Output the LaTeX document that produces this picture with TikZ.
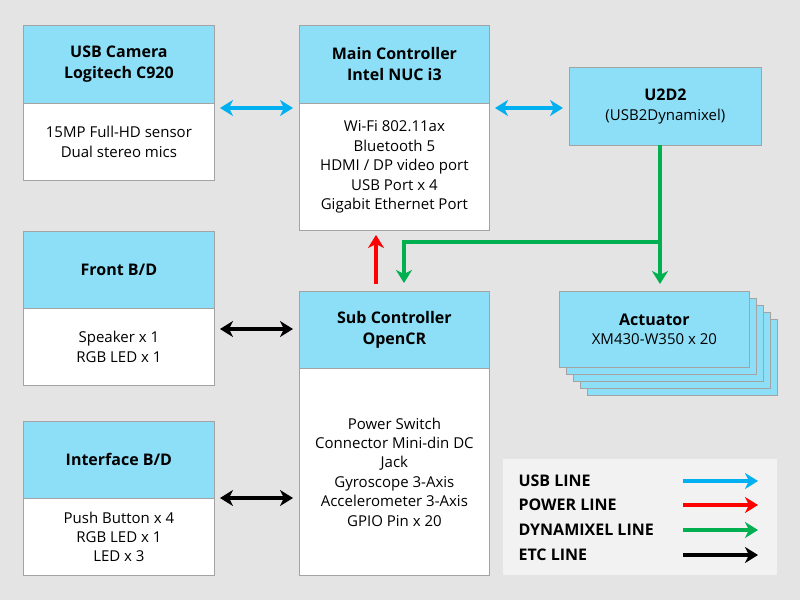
\documentclass[tikz,border=0pt]{standalone}
\usepackage{fontspec}
\setmainfont{Open Sans}
\usetikzlibrary{arrows.meta}
\definecolor{bgc}{HTML}{E4E4E4}
\definecolor{cyanh}{HTML}{8DDFF8}
\definecolor{edgec}{HTML}{A3A3A3}
\definecolor{legc}{HTML}{F2F2F2}
\definecolor{usbc}{HTML}{00B0F0}
\definecolor{pwrc}{HTML}{FF0000}
\definecolor{dxlc}{HTML}{00B050}
\tikzset{
  hdr/.style={draw=edgec, line width=0.8pt, fill=cyanh, anchor=north west, inner sep=0pt, align=center, font=\fontsize{16}{21}\selectfont\bfseries},
  bdy/.style={draw=edgec, line width=0.8pt, fill=white, anchor=north west, inner sep=0pt, align=center, font=\fontsize{15}{19.4}\selectfont},
  tip/.style={-{Stealth[length=13pt,width=16pt,inset=4pt]}},
  dtip/.style={{Stealth[length=13pt,width=16pt,inset=4pt]}-{Stealth[length=13pt,width=16pt,inset=4pt]}},
  conn/.style={line width=4pt},
  legtxt/.style={anchor=west, font=\fontsize{16}{18}\selectfont\bfseries},
}
\begin{document}
\begin{tikzpicture}[x=1pt,y=-1pt]
\fill[bgc] (0,0) rectangle (800,600);
\useasboundingbox (0,0) rectangle (800,600);
% USB camera
\node[hdr, minimum width=191pt, minimum height=78pt] (camh) at (23,25) {USB Camera\\Logitech C920};
\node[bdy, minimum width=191pt, minimum height=77pt] (camb) at (23,103) {15MP Full-HD sensor\\Dual stereo mics};
% Main controller
\node[hdr, minimum width=190pt, minimum height=78pt] (mainh) at (299,25) {Main Controller\\Intel NUC i3};
\node[bdy, minimum width=190pt, minimum height=127pt] (mainb) at (299,103) {Wi-Fi 802.11ax\\Bluetooth 5\\HDMI / DP video port\\USB Port x 4\\Gigabit Ethernet Port};
% U2D2
\node[hdr, minimum width=192pt, minimum height=78pt, font=\fontsize{15}{19.4}\selectfont] (u2d2) at (569,67) {\textbf{\fontsize{16}{19}\selectfont U2D2}\\(USB2Dynamixel)};
% Front B/D
\node[hdr, minimum width=191pt, minimum height=77pt] (fronth) at (23,231) {Front B/D};
\node[bdy, minimum width=191pt, minimum height=77pt] (frontb) at (23,308) {Speaker x 1\\RGB LED x 1};
% Sub controller
\node[hdr, minimum width=190pt, minimum height=77pt] (subh) at (299,291) {Sub Controller\\OpenCR};
\node[bdy, minimum width=190pt, minimum height=207pt] (subb) at (299,368) {Power Switch\\Connector Mini-din DC\\Jack\\Gyroscope 3-Axis\\Accelerometer 3-Axis\\GPIO Pin x 20};
% Interface B/D
\node[hdr, minimum width=191pt, minimum height=77pt] (ifh) at (23,421) {Interface B/D};
\node[bdy, minimum width=191pt, minimum height=77pt] (ifb) at (23,498) {Push Button x 4\\RGB LED x 1\\LED x 3};
% Actuator stack
\foreach \k in {4,3,2,1} {
  \node[hdr, minimum width=190pt, minimum height=76pt] (act\k) at (559+7*\k,291+7*\k) {};
}
\node[hdr, minimum width=190pt, minimum height=76pt, font=\fontsize{15}{19.4}\selectfont] (act) at (559,291) {\textbf{\fontsize{16}{19}\selectfont Actuator}\\XM430-W350 x 20};
% connector end points
\coordinate (c1) at (220,108); \coordinate (c2) at (293,108);
\coordinate (c3) at (495,108); \coordinate (c4) at (563,108);
\coordinate (jn) at (660,242);
\coordinate (g1) at (660,145); \coordinate (g2) at (660,284);
\coordinate (g3) at (404,242); \coordinate (g4) at (404,283);
\coordinate (r1) at (376,284); \coordinate (r2) at (376,235);
\coordinate (k1) at (220,329); \coordinate (k2) at (293,329);
\coordinate (k3) at (220,498); \coordinate (k4) at (293,498);
% connectors
\draw[conn, usbc, dtip] (c1) -- (c2);
\draw[conn, usbc, dtip] (c3) -- (c4);
\draw[conn, dxlc, tip] (g1) -- (g2);
\draw[conn, dxlc, tip, line join=miter] (jn) -- (g3) -- (g4);
\draw[conn, pwrc, tip] (r1) -- (r2);
\draw[conn, black, dtip] (k1) -- (k2);
\draw[conn, black, dtip] (k3) -- (k4);
% legend
\node[fill=legc, anchor=north west, minimum width=274pt, minimum height=116pt, inner sep=0pt] (leg) at (503,459) {};
\node[legtxt] (l1) at (515,481) {USB LINE};
\node[legtxt] (l2) at (515,505) {POWER LINE};
\node[legtxt] (l3) at (515,530) {DYNAMIXEL LINE};
\node[legtxt] (l4) at (515,555) {ETC LINE};
\coordinate (a1) at (683,481); \coordinate (b1) at (758,481);
\coordinate (a2) at (683,505); \coordinate (b2) at (758,505);
\coordinate (a3) at (683,530); \coordinate (b3) at (758,530);
\coordinate (a4) at (683,555); \coordinate (b4) at (758,555);
\draw[conn, usbc, tip] (a1) -- (b1);
\draw[conn, pwrc, tip] (a2) -- (b2);
\draw[conn, dxlc, tip] (a3) -- (b3);
\draw[conn, black, tip] (a4) -- (b4);
\end{tikzpicture}
\end{document}
